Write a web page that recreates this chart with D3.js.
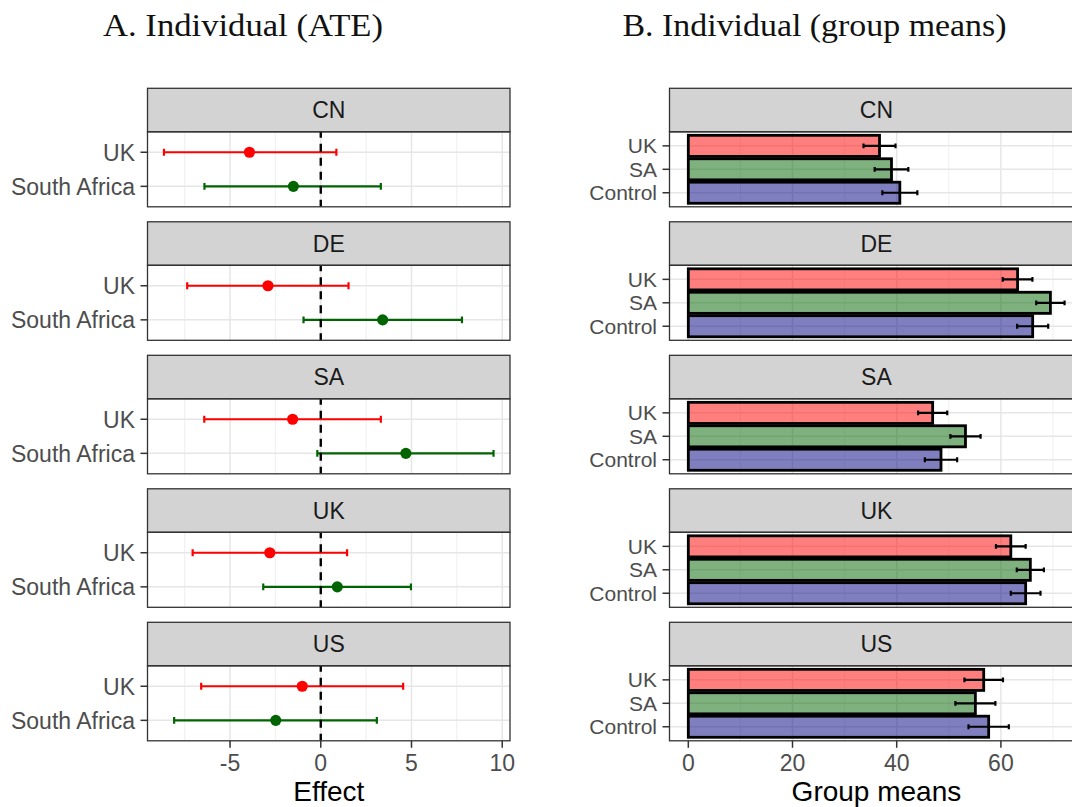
<!DOCTYPE html>
<html>
<head>
<meta charset="utf-8">
<script src="https://cdn.jsdelivr.net/npm/d3@7"></script>
<style>
  html, body { margin: 0; padding: 0; background: #fff; }
  svg { display: block; }
</style>
</head>
<body>
<svg id="chart" width="1072" height="807"></svg>
<script>
// Country panels (facets), top to bottom
const countries = ["CN", "DE", "SA", "UK", "US"];

// Panel A: treatment effects vs. control with 95% intervals
const ateArms = ["UK", "South Africa"];
const ateUK      = [-3.93, -2.91, -1.55, -2.81, -1.02];
const ateUKLow   = [-8.64, -7.36, -6.42, -7.06, -6.59];
const ateUKHigh  = [ 0.86,  1.53,  3.31,  1.45,  4.54];
const ateSA      = [-1.51,  3.41,  4.69,  0.91, -2.48];
const ateSALow   = [-6.41, -0.95, -0.19, -3.17, -8.08];
const ateSAHigh  = [ 3.31,  7.78,  9.52,  4.97,  3.09];
const ateTicks   = [-5, 0, 5, 10];

// Panel B: group means with error bars (half-widths)
const groups = ["Control", "SA", "UK"];
const meanUK      = [36.7, 63.2, 46.9, 61.9, 56.7];
const meanSA      = [39.0, 69.5, 53.2, 65.65, 55.1];
const meanControl = [40.6, 66.1, 48.5, 64.75, 57.65];
const errUK       = [3.07, 2.85, 2.80, 2.85, 3.70];
const errSA       = [3.23, 2.72, 2.90, 2.60, 3.84];
const errControl  = [3.36, 2.98, 3.10, 2.85, 3.87];
const meanTicks   = [0, 20, 40, 60];

const armColor   = { "UK": "#FF0000", "South Africa": "#006400" };
const groupColor = { "UK": "#FF0000", "SA": "#006400", "Control": "#000080" };

const svg = d3.select("#chart");
const SANS = "'Liberation Sans', Arial, sans-serif";
const SERIF = "'Liberation Serif', 'Times New Roman', serif";
const TICK_SIZE = 23;

// facet geometry
const top0 = 88.3, period = 133.5, stripH = 43.5, panelH = 75;
const stripTop = i => top0 + i * period;
const panelTop = i => stripTop(i) + stripH;
const lastBottom = panelTop(countries.length - 1) + panelH;

// ---------- rows of data ----------
const ateRows = countries.flatMap((c, i) => [
  { country: c, arm: "UK", est: ateUK[i], lo: ateUKLow[i], hi: ateUKHigh[i] },
  { country: c, arm: "South Africa", est: ateSA[i], lo: ateSALow[i], hi: ateSAHigh[i] }
]);
const meanRows = countries.flatMap((c, i) => [
  { country: c, group: "UK", m: meanUK[i], e: errUK[i] },
  { country: c, group: "SA", m: meanSA[i], e: errSA[i] },
  { country: c, group: "Control", m: meanControl[i], e: errControl[i] }
]);

function expand(lo, hi, mult) {
  const r = hi - lo;
  return [lo - r * mult, hi + r * mult];
}

// ---------- scales ----------
const xA = d3.scaleLinear()
  .domain(expand(d3.min(ateRows, d => d.lo), d3.max(ateRows, d => d.hi), 0.05))
  .range([147.5, 510]);
const yA = d3.scaleLinear().domain([0.4, 2.6]).range([panelH, 0]);
const armPos = { "South Africa": 1, "UK": 2 };

const xB = d3.scaleLinear()
  .domain(expand(0, d3.max(meanRows, d => d.m + d.e), 0.05))
  .range([669.5, 669.5 + 79.44 * 5.21]);
const yB = d3.scaleLinear().domain([0.4, 3.6]).range([panelH, 0]);
const groupPos = { "Control": 1, "SA": 2, "UK": 3 };

// ---------- titles ----------
function title(text, x, width) {
  svg.append("text")
    .attr("x", x).attr("y", 35.5)
    .attr("font-family", SERIF)
    .attr("font-size", 32.5)
    .attr("fill", "#111")
    .attr("textLength", width)
    .attr("lengthAdjust", "spacingAndGlyphs")
    .text(text);
}
title("A. Individual (ATE)", 103, 280);
title("B. Individual (group means)", 622.5, 384);

// ---------- generic facet frame ----------
function facetFrame(i, x, yPos, cats, gridMajor, gridMinor, clipId, labelSize) {
  const x0 = x.range()[0], x1 = x.range()[1];
  const g = svg.append("g").attr("transform", `translate(0,${panelTop(i)})`);

  // clip to panel
  g.append("clipPath").attr("id", clipId)
    .append("rect").attr("x", x0).attr("y", 0).attr("width", x1 - x0).attr("height", panelH);

  g.append("rect").attr("x", x0).attr("y", 0).attr("width", x1 - x0).attr("height", panelH)
    .attr("fill", "#fff");

  const grid = g.append("g").attr("clip-path", `url(#${clipId})`);
  grid.selectAll("line.minor").data(gridMinor).join("line")
    .attr("x1", d => x(d)).attr("x2", d => x(d))
    .attr("y1", 0).attr("y2", panelH)
    .attr("stroke", "#EBEBEB").attr("stroke-width", 0.8);
  grid.selectAll("line.major").data(gridMajor).join("line")
    .attr("x1", d => x(d)).attr("x2", d => x(d))
    .attr("y1", 0).attr("y2", panelH)
    .attr("stroke", "#E6E6E6").attr("stroke-width", 1.5);
  grid.selectAll("line.hgrid").data(cats).join("line")
    .attr("x1", x0).attr("x2", x1)
    .attr("y1", d => yPos(d)).attr("y2", d => yPos(d))
    .attr("stroke", "#E6E6E6").attr("stroke-width", 1.5);

  // strip
  const sTop = stripTop(i) - panelTop(i);
  g.append("rect").attr("x", x0).attr("y", sTop).attr("width", x1 - x0).attr("height", stripH)
    .attr("fill", "#D3D3D3").attr("stroke", "#333").attr("stroke-width", 1.3);
  g.append("text")
    .attr("x", (x0 + x1) / 2).attr("y", sTop + stripH / 2)
    .attr("dy", "0.36em").attr("text-anchor", "middle")
    .attr("font-family", SANS).attr("font-size", TICK_SIZE).attr("fill", "#1A1A1A")
    .text(countries[i]);

  // y axis ticks + labels
  const yt = g.append("g");
  yt.selectAll("line").data(cats).join("line")
    .attr("x1", x0 - 7).attr("x2", x0)
    .attr("y1", d => yPos(d)).attr("y2", d => yPos(d))
    .attr("stroke", "#333").attr("stroke-width", 1.5);
  yt.selectAll("text").data(cats).join("text")
    .attr("x", x0 - 12.5).attr("y", d => yPos(d))
    .attr("dy", "0.36em").attr("text-anchor", "end")
    .attr("font-family", SANS).attr("font-size", labelSize).attr("fill", "#4D4D4D")
    .text(d => d);

  return { g, grid, x0, x1 };
}

function frameBorder(f) {
  f.g.append("rect").attr("x", f.x0).attr("y", 0).attr("width", f.x1 - f.x0).attr("height", panelH)
    .attr("fill", "none").attr("stroke", "#333").attr("stroke-width", 1.3);
}

function bottomAxis(x, ticks, label) {
  const g = svg.append("g").attr("transform", `translate(0,${lastBottom})`);
  g.selectAll("line").data(ticks).join("line")
    .attr("x1", d => x(d)).attr("x2", d => x(d))
    .attr("y1", 0).attr("y2", 7)
    .attr("stroke", "#333").attr("stroke-width", 1.5);
  g.selectAll("text").data(ticks).join("text")
    .attr("x", d => x(d)).attr("y", 30.5)
    .attr("text-anchor", "middle")
    .attr("font-family", SANS).attr("font-size", TICK_SIZE).attr("fill", "#4D4D4D")
    .text(d => d);
  const [a, b] = x.range();
  svg.append("text")
    .attr("x", (a + b) / 2).attr("y", 800.5)
    .attr("text-anchor", "middle")
    .attr("font-family", SANS).attr("font-size", 28).attr("fill", "#000")
    .text(label);
}

// ---------- Panel A ----------
countries.forEach((c, i) => {
  const yPos = a => yA(armPos[a]);
  const f = facetFrame(i, xA, yPos, ateArms, ateTicks, [-7.5, -2.5, 2.5, 7.5], `clipA${i}`, TICK_SIZE);
  const rows = ateRows.filter(d => d.country === c);
  const layer = f.g.append("g").attr("clip-path", `url(#clipA${i})`);

  rows.forEach(d => {
    const y = yPos(d.arm), col = armColor[d.arm];
    layer.append("line")
      .attr("x1", xA(d.lo)).attr("x2", xA(d.hi)).attr("y1", y).attr("y2", y)
      .attr("stroke", col).attr("stroke-width", 2.2);
    [d.lo, d.hi].forEach(v => layer.append("line")
      .attr("x1", xA(v)).attr("x2", xA(v)).attr("y1", y - 3.4).attr("y2", y + 3.4)
      .attr("stroke", col).attr("stroke-width", 2.2));
    layer.append("circle")
      .attr("cx", xA(d.est)).attr("cy", y).attr("r", 5.6)
      .attr("fill", col);
  });

  // reference line at zero effect
  layer.append("line")
    .attr("x1", xA(0)).attr("x2", xA(0)).attr("y1", 0).attr("y2", panelH)
    .attr("stroke", "#000").attr("stroke-width", 2.4)
    .attr("stroke-dasharray", "8,6").attr("stroke-dashoffset", 2);

  frameBorder(f);
});
bottomAxis(xA, ateTicks, "Effect");

// ---------- Panel B ----------
const barH = (yB(0) - yB(0.9));
countries.forEach((c, i) => {
  const yPos = gname => yB(groupPos[gname]);
  const f = facetFrame(i, xB, yPos, groups, [0, 20, 40, 60], [10, 30, 50, 70], `clipB${i}`, 21);
  const rows = meanRows.filter(d => d.country === c);
  const layer = f.g.append("g").attr("clip-path", `url(#clipB${i})`);

  layer.selectAll("rect.bar").data(rows).join("rect")
    .attr("x", xB(0))
    .attr("y", d => yPos(d.group) - barH / 2)
    .attr("width", d => xB(d.m) - xB(0))
    .attr("height", barH)
    .attr("fill", d => groupColor[d.group]).attr("fill-opacity", 0.5)
    .attr("stroke", "#000").attr("stroke-width", 2.8);

  rows.forEach(d => {
    const y = yPos(d.group);
    layer.append("line")
      .attr("x1", xB(d.m - d.e)).attr("x2", xB(d.m + d.e)).attr("y1", y).attr("y2", y)
      .attr("stroke", "#000").attr("stroke-width", 2.2);
    [d.m - d.e, d.m + d.e].forEach(v => layer.append("line")
      .attr("x1", xB(v)).attr("x2", xB(v)).attr("y1", y - 2.4).attr("y2", y + 2.4)
      .attr("stroke", "#000").attr("stroke-width", 2.2));
  });

  frameBorder(f);
});
bottomAxis(xB, meanTicks, "Group means");
</script>
</body>
</html>
